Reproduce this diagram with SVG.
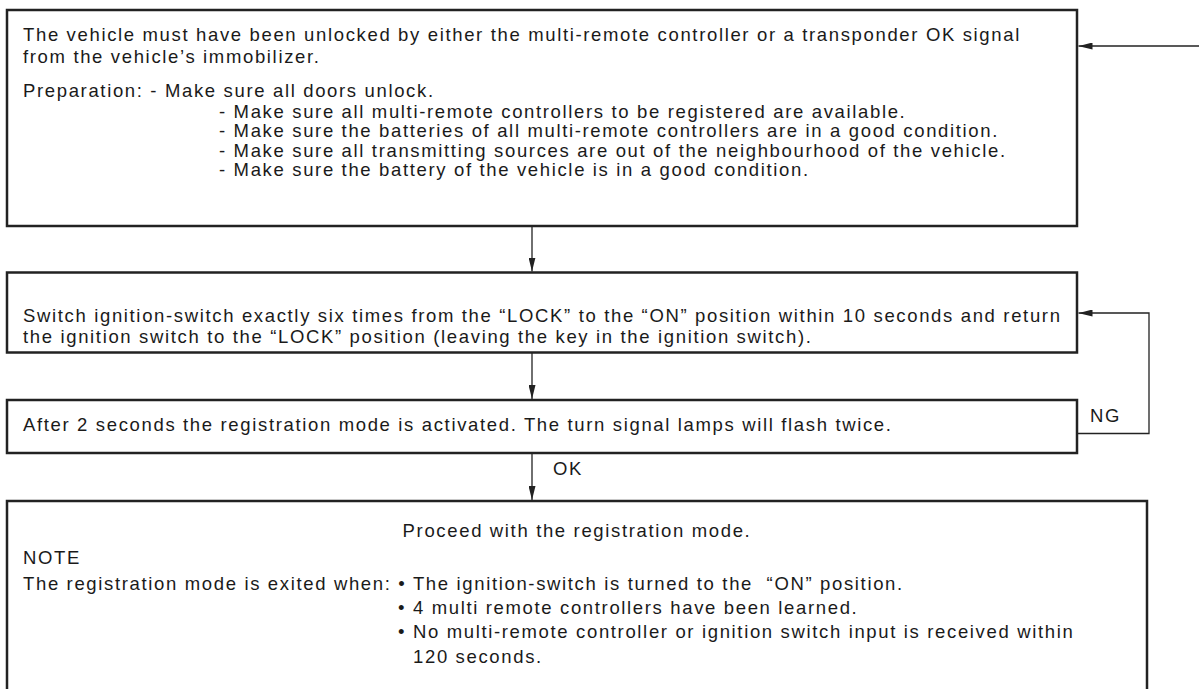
<svg xmlns="http://www.w3.org/2000/svg" width="1199" height="689" viewBox="0 0 1199 689">
  <style>
    .box { fill: #ffffff; stroke: #222222; stroke-width: 2.5; }
    .wire { fill: none; stroke: #222222; stroke-width: 1.3; }
    text { font-family: "Liberation Sans", Arial, Helvetica, sans-serif; font-size: 18.5px; letter-spacing: 1.65px; fill: #1a1a1a; }
  </style>
  <defs>
    <marker id="arrow" markerUnits="userSpaceOnUse" markerWidth="14" markerHeight="7" refX="14" refY="3.5" orient="auto">
      <path d="M0,0 L14,3.5 L0,7 z" fill="#222222"/>
    </marker>
  </defs>

  <rect width="1199" height="689" fill="#ffffff"/>

  <!-- Step 1: preconditions and preparation -->
  <g id="node-precondition">
    <rect class="box" x="7" y="10" width="1070" height="216"/>
    <text x="23" y="41">The vehicle must have been unlocked by either the multi-remote controller or a transponder OK signal</text>
    <text x="23" y="63">from the vehicle’s immobilizer.</text>
    <text x="23" y="97">Preparation: - Make sure all doors unlock.</text>
    <text x="219" y="118">- Make sure all multi-remote controllers to be registered are available.</text>
    <text x="219" y="137">- Make sure the batteries of all multi-remote controllers are in a good condition.</text>
    <text x="219" y="156.5">- Make sure all transmitting sources are out of the neighbourhood of the vehicle.</text>
    <text x="219" y="175.5">- Make sure the battery of the vehicle is in a good condition.</text>
  </g>

  <!-- Step 2: ignition switch sequence -->
  <g id="node-ignition">
    <rect class="box" x="7" y="272.5" width="1070" height="80"/>
    <text x="23" y="322">Switch ignition-switch exactly six times from the “LOCK” to the “ON” position within 10 seconds and return</text>
    <text x="23" y="342.5">the ignition switch to the “LOCK” position (leaving the key in the ignition switch).</text>
  </g>

  <!-- Step 3: registration mode check -->
  <g id="node-activated">
    <rect class="box" x="7" y="400" width="1070" height="53"/>
    <text x="23" y="431">After 2 seconds the registration mode is activated. The turn signal lamps will flash twice.</text>
  </g>

  <!-- Step 4: registration mode -->
  <g id="node-registration">
    <rect class="box" x="7" y="501" width="1140" height="210"/>
    <text x="577" y="536.5" text-anchor="middle">Proceed with the registration mode.</text>
    <text x="23" y="563.5">NOTE</text>
    <text x="23" y="590">The registration mode is exited when: • The ignition-switch is turned to the&#160; “ON” position.</text>
    <text x="398" y="614">• 4 multi remote controllers have been learned.</text>
    <text x="398" y="638">• No multi-remote controller or ignition switch input is received within</text>
    <text x="413" y="662.5">120 seconds.</text>
  </g>

  <!-- Connectors -->
  <g id="connectors">
    <line class="wire" x1="1199" y1="46" x2="1078.5" y2="46" marker-end="url(#arrow)"/>
    <line class="wire" x1="532" y1="227" x2="532" y2="271.5" marker-end="url(#arrow)"/>
    <line class="wire" x1="532" y1="353" x2="532" y2="399" marker-end="url(#arrow)"/>
    <line class="wire" x1="532" y1="454" x2="532" y2="500" marker-end="url(#arrow)"/>
    <polyline class="wire" points="1078,433.5 1149,433.5 1149,313 1078.5,313" marker-end="url(#arrow)"/>
    <text x="553" y="475">OK</text>
    <text x="1090" y="421.5">NG</text>
  </g>
</svg>
